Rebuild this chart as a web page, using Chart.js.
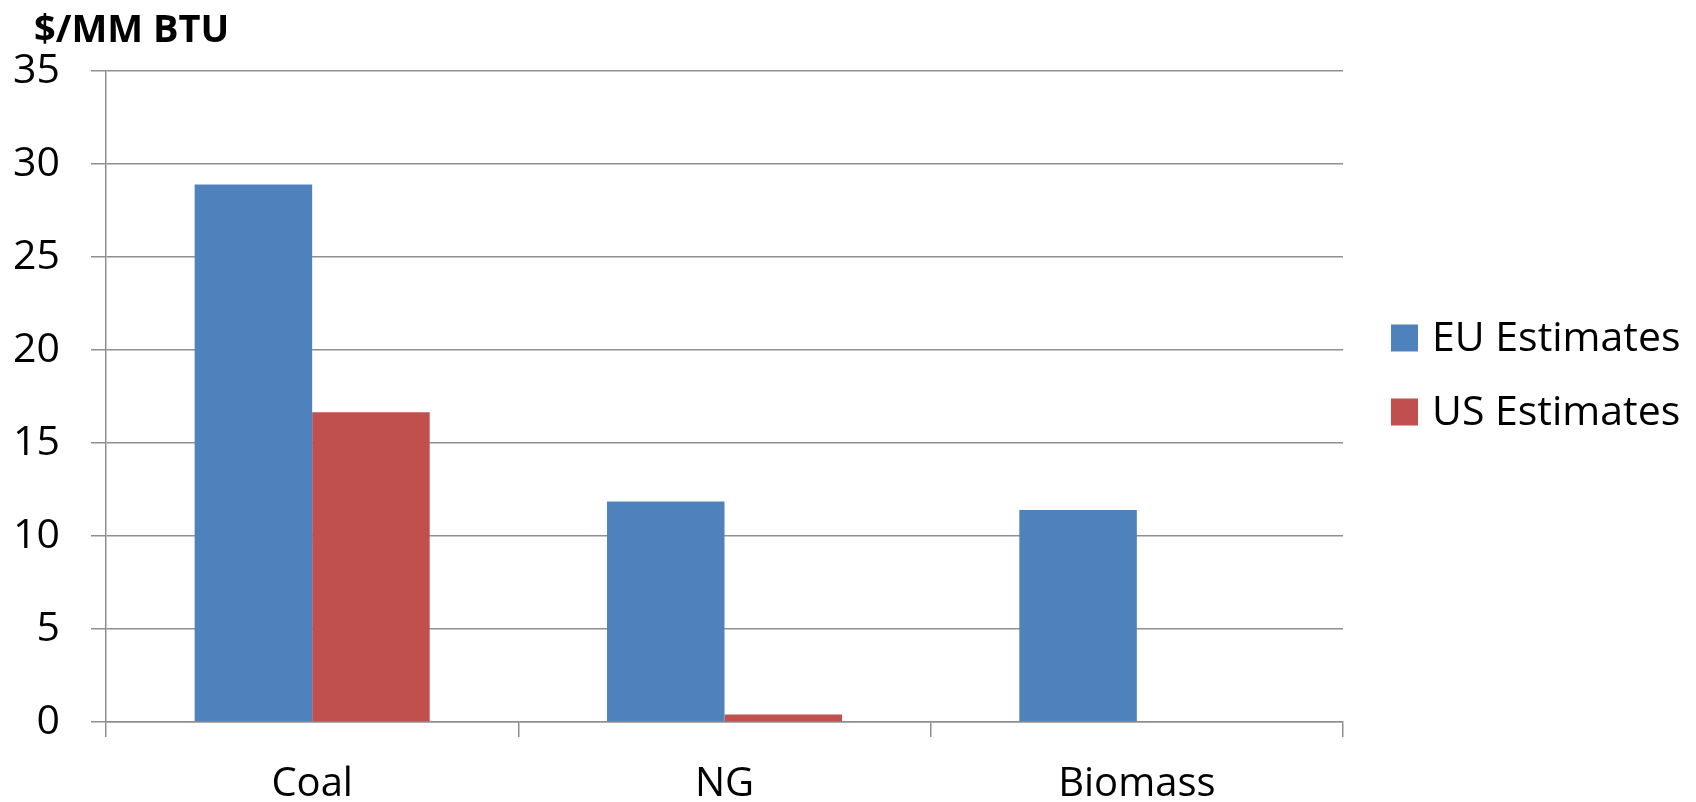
<!DOCTYPE html>
<html>
<head>
<meta charset="utf-8">
<script src="https://cdn.jsdelivr.net/npm/chart.js@4/dist/chart.umd.min.js"></script>
<style>
  html, body { margin: 0; padding: 0; background: #ffffff; }
  #wrap { width: 1696px; height: 802px; position: relative; }
</style>
</head>
<body>
<div id="wrap"><canvas id="c" width="1696" height="802"></canvas></div>
<script>
// Fuel cost estimates, $/MM BTU
const categories = ['Coal', 'NG', 'Biomass'];
const euEstimates = [28.9, 11.85, 11.4];
const usEstimates = [16.65, 0.4, 0];
const seriesNames = ['EU Estimates', 'US Estimates'];
const seriesColors = ['#4F81BD', '#C0504D'];
const yTicks = [0, 5, 10, 15, 20, 25, 30, 35];
const unitLabel = '$/MM BTU';

const FONT = '"Open Sans", "DejaVu Sans", sans-serif';
const GRID = '#8f8f8f';

// Unit caption above the value axis and the series key on the right
const decorations = {
  id: 'decorations',
  afterDraw(chart) {
    const ctx = chart.ctx;
    ctx.save();
    ctx.fillStyle = '#000';
    ctx.textBaseline = 'middle';
    ctx.textAlign = 'left';
    ctx.font = 'bold 38px ' + FONT;
    ctx.fillText(unitLabel, 34, 31);

    ctx.font = '41px ' + FONT;
    const box = 27;
    const rowY = [338, 412];
    chart.data.datasets.forEach((ds, i) => {
      ctx.fillStyle = ds.backgroundColor;
      ctx.fillRect(1391, rowY[i] - box / 2, box, box);
      ctx.fillStyle = '#000';
      ctx.fillText(ds.label, 1432, rowY[i] + 1);
    });
    ctx.restore();
  }
};

new Chart(document.getElementById('c'), {
  type: 'bar',
  data: {
    labels: categories,
    datasets: [
      { label: seriesNames[0], data: euEstimates, backgroundColor: seriesColors[0] },
      { label: seriesNames[1], data: usEstimates, backgroundColor: seriesColors[1] }
    ]
  },
  options: {
    responsive: false,
    animation: false,
    devicePixelRatio: 1,
    layout: { padding: { top: 71, right: 353, bottom: 0, left: 0 } },
    datasets: { bar: { categoryPercentage: 0.57, barPercentage: 1.0 } },
    plugins: {
      legend: { display: false },
      title: { display: false },
      tooltip: { enabled: false }
    },
    scales: {
      x: {
        offset: true,
        grid: {
          display: true,
          offset: true,
          drawOnChartArea: false,
          drawTicks: true,
          tickLength: 15,
          color: GRID,
          lineWidth: 1.5
        },
        border: { display: true, color: GRID, width: 1.5 },
        ticks: { color: '#000', font: { family: FONT, size: 40 }, padding: 24 },
        afterFit(scale) { scale.height = 80; }
      },
      y: {
        min: 0,
        max: 35,
        afterBuildTicks(scale) { scale.ticks = yTicks.map(v => ({ value: v })); },
        grid: {
          color: GRID,
          lineWidth: 1.5,
          drawTicks: true,
          tickLength: 15
        },
        border: { display: true, color: GRID, width: 1.5 },
        ticks: { color: '#000', font: { family: FONT, size: 41 }, padding: 31 },
        afterFit(scale) { scale.width = 106; }
      }
    }
  },
  plugins: [decorations]
});
</script>
</body>
</html>
